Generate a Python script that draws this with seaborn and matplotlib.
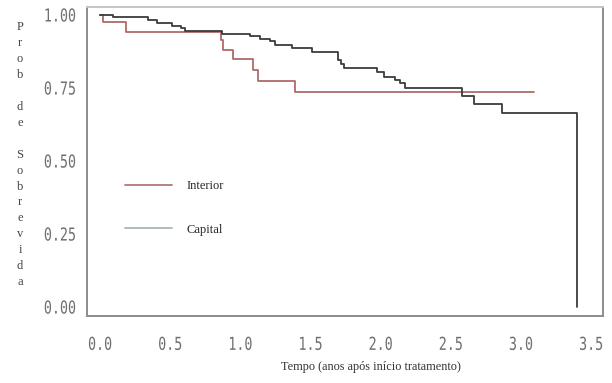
import matplotlib
matplotlib.use("Agg")
import matplotlib.pyplot as plt
from matplotlib.lines import Line2D
from matplotlib.patheffects import AbstractPathEffect
from matplotlib.transforms import Affine2D
import numpy as np
import pandas as pd
import seaborn as sns

# Kaplan-Meier survival estimates (time in years, survival probability)
capital_t = [0.0, 0.09, 0.342, 0.406, 0.513, 0.577, 0.606, 0.87, 1.069, 1.14,
             1.21, 1.247, 1.368, 1.511, 1.696, 1.718, 1.739, 1.974, 2.024,
             2.103, 2.138, 2.174, 2.578, 2.666, 2.863, 3.40]
capital_s = [1.0, 0.992, 0.983, 0.971, 0.963, 0.954, 0.945, 0.934, 0.926, 0.918,
             0.909, 0.897, 0.886, 0.872, 0.846, 0.832, 0.818, 0.804, 0.789,
             0.777, 0.766, 0.749, 0.723, 0.694, 0.665, 0.0]

interior_t = [0.0, 0.02, 0.185, 0.862, 0.877, 0.948, 1.09, 1.126, 1.393, 3.09]
interior_s = [1.0, 0.974, 0.943, 0.914, 0.880, 0.848, 0.812, 0.772, 0.735, 0.735]

groups = ["Interior", "Capital"]
x_ticks = [0.0, 0.5, 1.0, 1.5, 2.0, 2.5, 3.0, 3.5]
y_ticks = [0.00, 0.25, 0.50, 0.75, 1.00]
x_label = "Tempo (anos após início tratamento)"
y_label = "Prob de Sobrevida"

df = pd.concat([
    pd.DataFrame({"tempo": interior_t, "sobrevida": interior_s, "grupo": "Interior"}),
    pd.DataFrame({"tempo": capital_t, "sobrevida": capital_s, "grupo": "Capital"}),
], ignore_index=True)

sns.set_theme(style="white")
plt.rcParams["font.family"] = ["Liberation Serif", "DejaVu Serif"]


class Stretch(AbstractPathEffect):
    """Draw text glyphs stretched vertically around the digit mid-height."""

    def __init__(self, sy=1.34, mid=36.0):
        super().__init__()
        self.sy = sy
        self.mid = mid

    def draw_path(self, renderer, gc, tpath, affine, rgbFace=None):
        pre = Affine2D().translate(0, -self.mid).scale(1, self.sy).translate(0, self.mid)
        renderer.draw_path(gc, tpath, pre + affine, rgbFace)


fig = plt.figure(figsize=(6.12, 3.83), dpi=100)
ax = fig.add_axes([87 / 612, 1 - 316 / 383, 516 / 612, 309 / 383])

line_colors = {"Interior": "#b06a6a", "Capital": "#3c3c3c"}
sns.lineplot(data=df, x="tempo", y="sobrevida", hue="grupo", hue_order=groups,
             palette=line_colors, estimator=None, sort=False, units="grupo",
             drawstyle="steps-post", linewidth=1.3, legend=False, ax=ax)

ax.set_xlim(-0.093, 3.585)
ax.set_ylim(-0.031, 1.027)
ax.set_xticks(x_ticks)
ax.set_yticks(y_ticks)
ax.set_xticklabels([f"{v:.1f}" for v in x_ticks])
ax.set_yticklabels([f"{v:.2f}" for v in y_ticks])
ax.set_xlabel("")
ax.set_ylabel("")

for side, sp in ax.spines.items():
    sp.set_color("#8c8c8c")
    sp.set_linewidth(1.4)
ax.spines["top"].set_color("#c4c4c4")

ax.tick_params(axis="both", direction="out", colors="#7a7a7a", width=1.1,
               labelcolor="#6e6e6e")
ax.tick_params(axis="x", length=7, pad=9)
ax.tick_params(axis="y", length=4, pad=4)

stretch = Stretch()
for lab in ax.get_xticklabels() + ax.get_yticklabels():
    lab.set_fontfamily("DejaVu Sans Mono")
    lab.set_fontsize(9.6)
    lab.set_path_effects([stretch])

# Legend keys drawn in the lighter key colours
key_colors = {"Interior": "#b07878", "Capital": "#a8b8b0"}
handles = [Line2D([], [], color=key_colors[g], linewidth=1.3) for g in groups]
ax.legend(handles, groups, loc="upper left", bbox_to_anchor=(0.0736, 0.439),
          frameon=False, fontsize=9, handlelength=3.8, handletextpad=1.1,
          labelspacing=2.5, borderpad=0, borderaxespad=0)

fig.text(371 / 612, 1 - 367 / 383, x_label, ha="center", va="center",
         fontsize=8.8, color="#333333")

# Vertical axis title stacked one letter per row
y0, step = 27, 15.95
for i, ch in enumerate(y_label):
    if ch != " ":
        fig.text(20 / 612, 1 - (y0 + i * step) / 383, ch, ha="center",
                 va="center", fontsize=9, color="#444444")

fig.savefig("out.png", dpi=100)
